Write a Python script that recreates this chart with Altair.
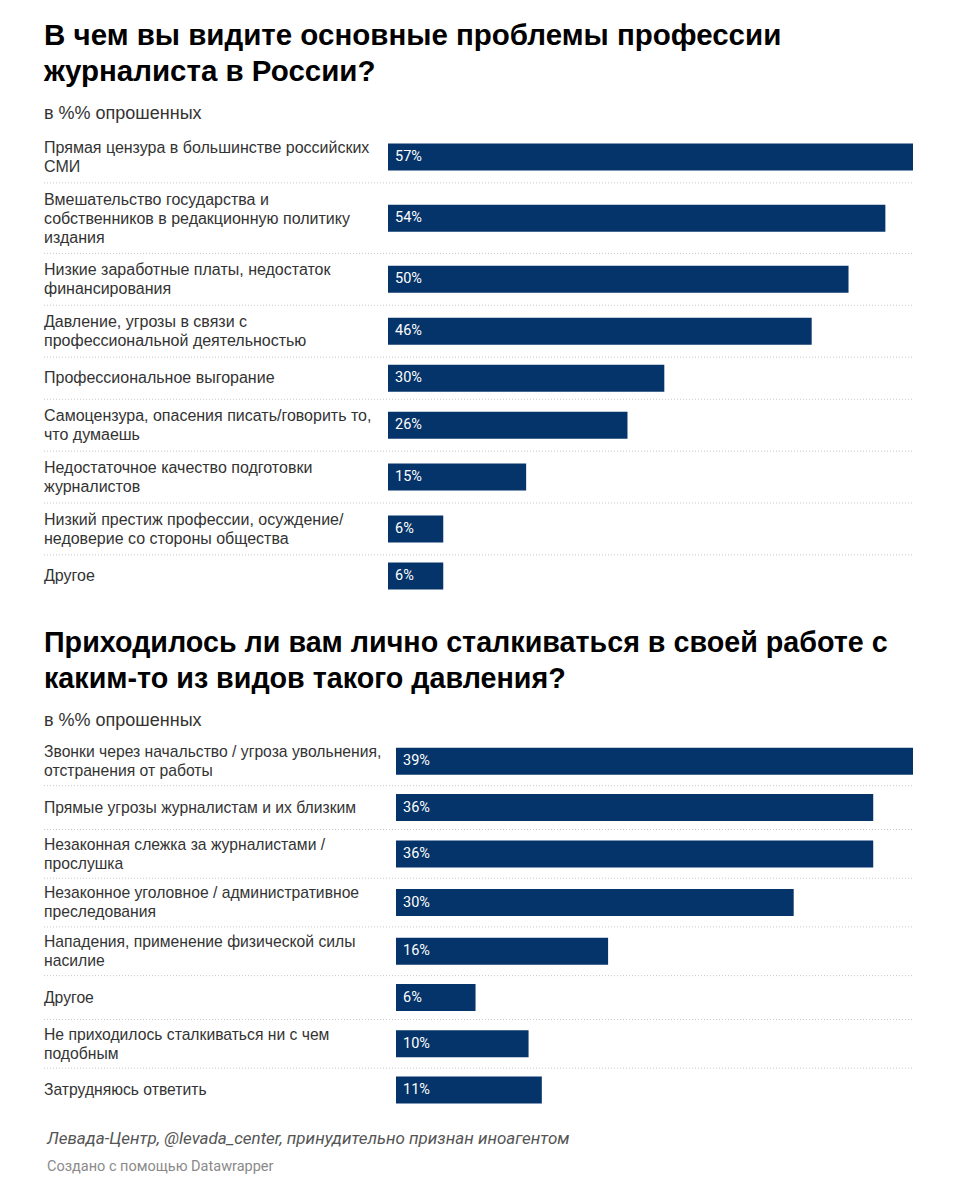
import altair as alt
import pandas as pd

title1 = ["В чем вы видите основные проблемы профессии", "журналиста в России?"]
subtitle1 = "в %% опрошенных"
labels1 = [
    "Прямая цензура в большинстве российских\nСМИ",
    "Вмешательство государства и\nсобственников в редакционную политику\nиздания",
    "Низкие заработные платы, недостаток\nфинансирования",
    "Давление, угрозы в связи с\nпрофессиональной деятельностью",
    "Профессиональное выгорание",
    "Самоцензура, опасения писать/говорить то,\nчто думаешь",
    "Недостаточное качество подготовки\nжурналистов",
    "Низкий престиж профессии, осуждение/\nнедоверие со стороны общества",
    "Другое",
]
values1 = [57, 54, 50, 46, 30, 26, 15, 6, 6]

title2 = ["Приходилось ли вам лично сталкиваться в своей работе с", "каким-то из видов такого давления?"]
subtitle2 = "в %% опрошенных"
labels2 = [
    "Звонки через начальство / угроза увольнения,\nотстранения от работы",
    "Прямые угрозы журналистам и их близким",
    "Незаконная слежка за журналистами /\nпрослушка",
    "Незаконное уголовное / административное\nпреследования",
    "Нападения, применение физической силы\nнасилие",
    "Другое",
    "Не приходилось сталкиваться ни с чем\nподобным",
    "Затрудняюсь ответить",
]
values2 = [39, 36, 36, 30, 16, 6, 10, 11]

source_text = "Левада-Центр, @levada_center, принудительно признан иноагентом"
credit_text = "Создано с помощью Datawrapper"

W = 869
LINE_H = 19
BAR_H = 27
NAVY = "#05346a"


def make_rows(labels, values, pad, min_row):
    recs = []
    y = 0
    for i, (lab, val) in enumerate(zip(labels, values)):
        n = lab.count("\n") + 1
        h = max(min_row, LINE_H * n + pad)
        mid = y + h / 2
        recs.append(dict(label=lab, value=val, txt=f"{val}%", top=y,
                         bottom=y + h, mid=mid, label_y=mid - (n - 1) * LINE_H / 2,
                         last=(i == len(labels) - 1)))
        y += h
    return pd.DataFrame(recs), y


def panel(title, subtitle, labels, values, pad, min_row, x_start, title_size,
          label_size, footer=False):
    df, total = make_rows(labels, values, pad, min_row)
    xs = alt.Scale(domain=[0, max(values)], range=[x_start, W], nice=False, zero=True)
    ys = alt.Scale(domain=[0, total], reverse=True, nice=False, zero=False)
    base = alt.Chart(df)
    seps = base.transform_filter("!datum.last").mark_rule(
        color="#c9c9c9", strokeDash=[1, 2], strokeWidth=1
    ).encode(x=alt.value(0), x2=alt.value(W), y=alt.Y("bottom:Q", scale=ys, axis=None))
    bars = base.mark_bar(orient="horizontal", size=BAR_H, color=NAVY).encode(
        x=alt.X("value:Q", scale=xs, axis=None),
        y=alt.Y("mid:Q", scale=ys, axis=None),
    )
    vals = base.mark_text(align="left", baseline="middle", dx=7, color="white",
                          font="Roboto", fontSize=14.5).encode(
        x=alt.datum(0), y="mid:Q", text="txt:N")
    labs = base.mark_text(align="left", baseline="middle", lineBreak="\n",
                          lineHeight=LINE_H, font="Liberation Sans", fontSize=label_size,
                          color="#333333").encode(
        x=alt.value(0), y="label_y:Q", text="label:N")
    layers = [seps, bars, vals, labs]
    if footer:
        fdf = pd.DataFrame({"t": [source_text]})
        cdf = pd.DataFrame({"t": [credit_text]})
        layers.append(alt.Chart(fdf).mark_text(
            align="left", baseline="middle", font="Roboto", fontStyle="italic",
            fontSize=17, color="#555555", dx=3).encode(
            x=alt.value(0), y=alt.value(total + 22), text="t:N"))
        layers.append(alt.Chart(cdf).mark_text(
            align="left", baseline="middle", font="Roboto",
            fontSize=14.5, color="#8a8a8a", dx=3).encode(
            x=alt.value(0), y=alt.value(total + 50), text="t:N"))
    return alt.layer(*layers).properties(
        width=W, height=total,
        title=alt.TitleParams(
            text=title, subtitle=subtitle, anchor="start", frame="group",
            font="Liberation Sans", fontSize=title_size, fontWeight="bold",
            color="#000000", lineHeight=36, subtitleFont="Liberation Sans",
            subtitleFontSize=18, subtitleColor="#333333", subtitlePadding=18,
            offset=2,
        ),
    )


c1 = panel(title1, subtitle1, labels1, values1, 15, 43, 344, 29.5, 16)
c2 = panel(title2, subtitle2, labels2, values2, 12, 45, 352, 28.7, 15.7, footer=True)

chart = alt.vconcat(c1, c2, spacing=27).properties(
    padding={"left": 35, "top": 12, "right": 10, "bottom": 70},
    background="white",
).configure_view(stroke=None)

chart.save("out.html", embed_options={"renderer": "svg", "actions": False})
